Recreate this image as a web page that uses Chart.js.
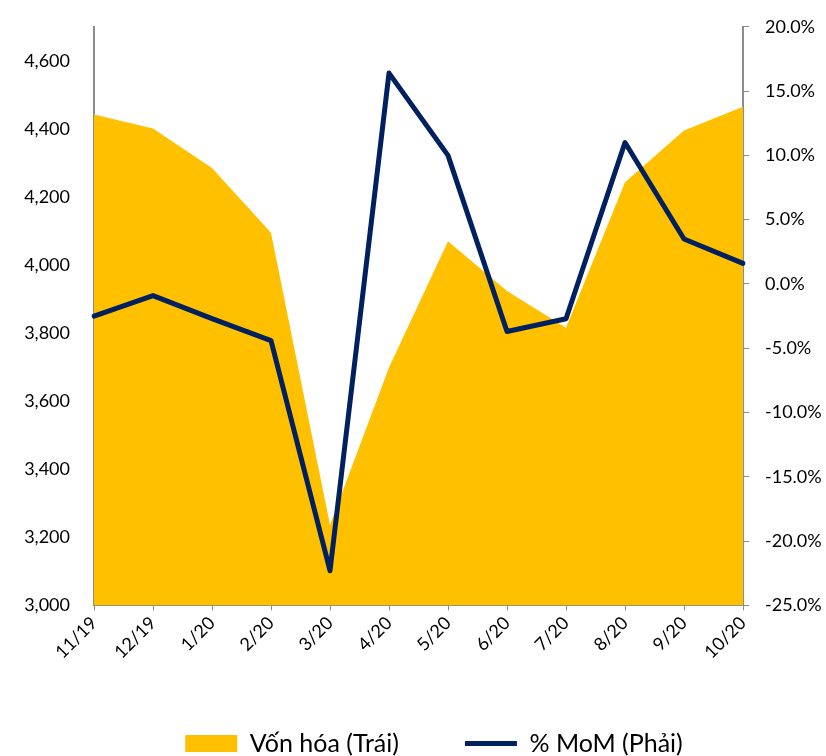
<!DOCTYPE html>
<html>
<head>
<meta charset="utf-8">
<script src="https://cdn.jsdelivr.net/npm/chart.js@4/dist/chart.umd.min.js"></script>
<style>
  html, body { margin: 0; padding: 0; background: #fff; overflow: hidden; }
  #wrap { width: 826px; height: 766px; }
</style>
</head>
<body>
<div id="wrap"><canvas id="chartCanvas" width="826" height="766"></canvas></div>
<script>
const months = ['11/19', '12/19', '1/20', '2/20', '3/20', '4/20', '5/20', '6/20', '7/20', '8/20', '9/20', '10/20'];
const vonHoa = [4442, 4401, 4285, 4095, 3236, 3699, 4070, 3924, 3816, 4243, 4395, 4465];
const momPct = [-2.5, -0.9, -2.7, -4.4, -22.3, 16.4, 10.0, -3.7, -2.7, 11.0, 3.5, 1.6];

const axisGrey = '#8c8c8c';
const font = { family: 'Lato', size: 18 };

// nudge the legend a bit to the right, like the original
const legendShift = {
    id: 'legendShift',
    afterLayout: (chart) => {
        chart.legend.left += 21;
        chart.legend.right += 21;
    }
};

const ctx = document.getElementById('chartCanvas').getContext('2d');
const chart = new Chart(ctx, {
    data: {
        labels: months,
        datasets: [
            {
                type: 'line',
                label: 'Vốn hóa (Trái)',
                data: vonHoa,
                yAxisID: 'yL',
                backgroundColor: '#FFC000',
                borderColor: '#FFC000',
                borderWidth: 0,
                pointRadius: 0,
                fill: 'start',
                tension: 0,
                order: 1,
                pointStyle: 'rect'
            },
            {
                type: 'line',
                label: '% MoM (Phải)',
                data: momPct,
                yAxisID: 'yR',
                borderColor: '#002060',
                backgroundColor: '#002060',
                borderWidth: 5,
                borderJoinStyle: 'round',
                borderCapStyle: 'round',
                pointRadius: 0,
                fill: false,
                tension: 0,
                order: 0,
                pointStyle: 'line'
            }
        ]
    },
    plugins: [legendShift],
    options: {
        responsive: false,
        animation: false,
        layout: { padding: { top: -2, left: 0, right: 0, bottom: 0 } },
        plugins: {
            tooltip: { enabled: false },
            legend: {
                position: 'bottom',
                labels: {
                    usePointStyle: true,
                    pointStyleWidth: 52,
                    boxHeight: 17,
                    color: '#000',
                    padding: 66,
                    font: { family: 'Lato', size: 25 },
                    sort: (a, b) => a.datasetIndex - b.datasetIndex
                }
            }
        },
        scales: {
            x: {
                offset: false,
                grid: { drawOnChartArea: false, drawTicks: true, tickLength: 5, color: axisGrey },
                border: { display: true, color: axisGrey, width: 2 },
                ticks: { color: '#000', font: font, maxRotation: 45, minRotation: 45, padding: 2, autoSkip: false }
            },
            yL: {
                position: 'left',
                min: 3000,
                max: 4700,
                afterBuildTicks: (scale) => {
                    scale.ticks = scale.ticks.filter(t => t.value % 200 === 0);
                },
                afterFit: (scale) => { scale.width = 94; },
                grid: { display: false },
                border: { display: true, color: axisGrey, width: 2 },
                ticks: {
                    stepSize: 200,
                    color: '#000',
                    font: font,
                    padding: 16,
                    callback: (v) => v.toLocaleString('en-US')
                }
            },
            yR: {
                position: 'right',
                min: -25,
                max: 20,
                afterFit: (scale) => { scale.width = 83; },
                grid: { drawOnChartArea: false, drawTicks: true, tickLength: 6, color: axisGrey },
                border: { display: true, color: axisGrey, width: 2 },
                ticks: {
                    stepSize: 5,
                    color: '#000',
                    font: font,
                    padding: 16,
                    callback: (v) => v.toFixed(1) + '%'
                }
            }
        }
    }
});
</script>
</body>
</html>
